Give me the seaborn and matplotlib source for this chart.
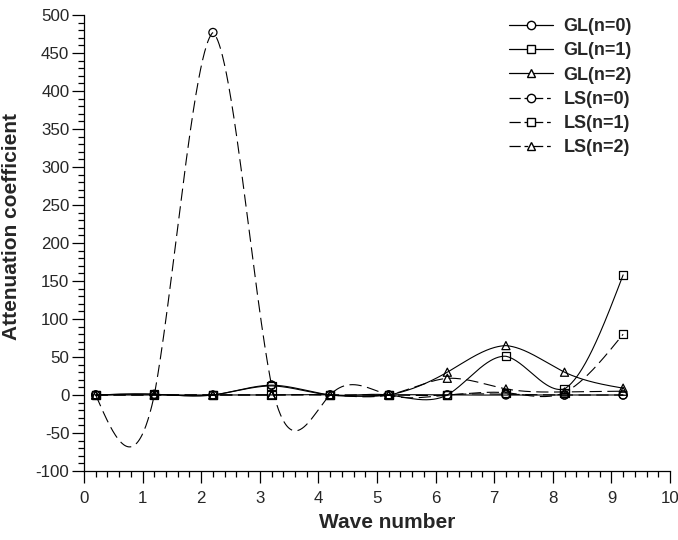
import numpy as np
import pandas as pd
import matplotlib
matplotlib.use("Agg")
import matplotlib.pyplot as plt
from matplotlib.lines import Line2D
from matplotlib.ticker import MultipleLocator
import seaborn as sns

# ---- data ----
wave = [0.2, 1.2, 2.2, 3.2, 4.2, 5.2, 6.2, 7.2, 8.2, 9.2]
gl_n0 = [0, 1, 0, 13, 0, 0, 0, 0, 0, 0]
gl_n1 = [0, 1, 0, 12, 0, 0, 0, 51, 8, 158]
gl_n2 = [0, 0, 0, 0, 0, 0, 30, 65, 30, 9]
ls_n0 = [0, 0, 477, 13, 0, 0, 0, 1, 0, 0]
ls_n1 = [0, 0, 0, 0, 0, 0, 0, 3, 3, 80]
ls_n2 = [0, 0, 0, 0, 0, 0, 22, 8, 4, 5]

series = [
    ("GL(n=0)", gl_n0, "o", "solid"),
    ("GL(n=1)", gl_n1, "s", "solid"),
    ("GL(n=2)", gl_n2, "^", "solid"),
    ("LS(n=0)", ls_n0, "o", "dashed"),
    ("LS(n=1)", ls_n1, "s", "dashed"),
    ("LS(n=2)", ls_n2, "^", "dashed"),
]

TENSION = 0.87  # blend of cubic spline and straight segments (curve style)


def smooth_curve(x, y, xs):
    x = np.asarray(x, float)
    y = np.asarray(y, float)
    n = len(x)
    h = np.diff(x)
    A = np.zeros((n, n))
    b = np.zeros(n)
    A[0, 0] = 1
    A[-1, -1] = 1
    for i in range(1, n - 1):
        A[i, i - 1] = h[i - 1]
        A[i, i] = 2 * (h[i - 1] + h[i])
        A[i, i + 1] = h[i]
        b[i] = 6 * ((y[i + 1] - y[i]) / h[i] - (y[i] - y[i - 1]) / h[i - 1])
    M = np.linalg.solve(A, b)
    idx = np.clip(np.searchsorted(x, xs) - 1, 0, n - 2)
    x0 = x[idx]
    x1 = x[idx + 1]
    hh = x1 - x0
    t0 = x1 - xs
    t1 = xs - x0
    spl = (M[idx] * t0 ** 3 / (6 * hh) + M[idx + 1] * t1 ** 3 / (6 * hh)
           + (y[idx] / hh - M[idx] * hh / 6) * t0
           + (y[idx + 1] / hh - M[idx + 1] * hh / 6) * t1)
    lin = np.interp(xs, x, y)
    return TENSION * spl + (1 - TENSION) * lin


sns.set_style("ticks")
plt.rcParams["font.family"] = ["Liberation Sans", "DejaVu Sans"]
plt.rcParams["axes.unicode_minus"] = False

fig = plt.figure(figsize=(6.78, 5.40), dpi=100)
ax = fig.add_axes([84 / 678, 1 - 471 / 540, (670 - 84) / 678, (471 - 15) / 540])

xs = np.linspace(wave[0], wave[-1], 800)
dash = (0, (11, 5))
LW = 0.8
for name, vals, mk, style in series:
    curve = pd.DataFrame({"x": xs, "y": smooth_curve(wave, vals, xs)})
    sns.lineplot(data=curve, x="x", y="y", ax=ax, color="black", lw=LW,
                 linestyle="-" if style == "solid" else dash, sort=False)
    pts = pd.DataFrame({"x": wave, "y": vals})
    sns.scatterplot(data=pts, x="x", y="y", ax=ax, marker=mk, s=34,
                    facecolor="none", edgecolor="black", linewidth=0.9, zorder=5)

ax.set_xlim(0, 10)
ax.set_ylim(-100, 500)
ax.xaxis.set_major_locator(MultipleLocator(1))
ax.xaxis.set_minor_locator(MultipleLocator(0.2))
ax.yaxis.set_major_locator(MultipleLocator(50))
ax.yaxis.set_minor_locator(MultipleLocator(10))
ax.tick_params(which="major", direction="out", length=8.6, width=0.9, labelsize=12.2, color="black")
ax.tick_params(which="minor", direction="out", length=4.3, width=0.9, color="black")
ax.tick_params(axis="x", which="major", pad=6)
ax.tick_params(axis="y", which="major", pad=2)
for s in ["top", "right"]:
    ax.spines[s].set_visible(False)
for s in ["left", "bottom"]:
    ax.spines[s].set_color("black")
    ax.spines[s].set_linewidth(0.9)

ax.set_xlabel("Wave number", fontsize=15, fontweight="bold")
ax.set_ylabel("Attenuation coefficient", fontsize=15, fontweight="bold")
ax.xaxis.set_label_coords((387 - 84) / 586, -(522 - 471) / 456)
ax.yaxis.set_label_coords(-(84 - 12) / 586, (471 - 227) / 456)
ax.xaxis.label.set_va("center")
ax.yaxis.label.set_va("center")

handles = []
for name, vals, mk, style in series:
    handles.append(Line2D([0], [0], color="black", lw=0.9,
                          linestyle="-" if style == "solid" else (0, (9, 3, 3, 3)),
                          marker=mk, markersize=6, markerfacecolor="white",
                          markeredgecolor="black", label=name))
leg = ax.legend(handles=handles, loc="upper left", bbox_to_anchor=(493 / 678, 1 - 2 / 540),
                bbox_transform=fig.transFigure, frameon=False,
                prop={"size": 13, "weight": "bold"}, handlelength=2.4,
                handletextpad=0.6, labelspacing=0.4)

fig.savefig("out.png", dpi=100)
